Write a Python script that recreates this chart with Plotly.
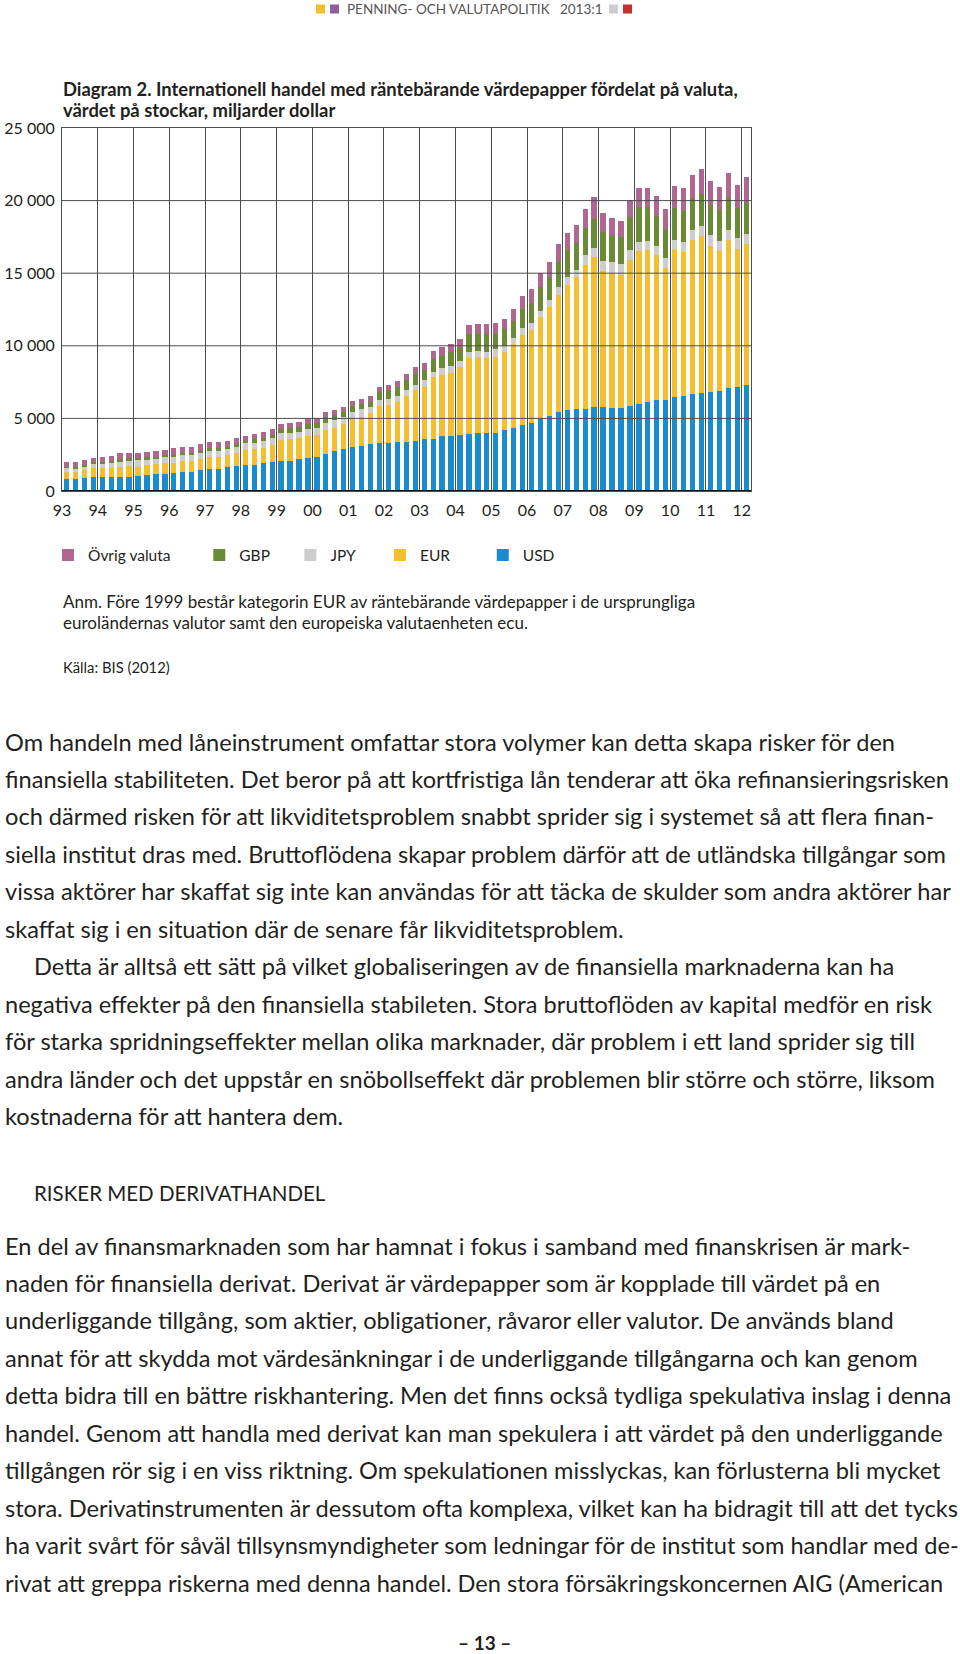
import plotly.graph_objects as go

# ---------------- data (billion USD, quarterly stocks 1993Q1-2012Q1) ----------------
quarters = [f"{y}Q{q}" for y in range(1993, 2013) for q in range(1, 5)][:77]

usd = [826, 826, 918, 986, 986, 986, 986, 986, 1032, 1101, 1147, 1147, 1216, 1285, 1331, 1445,
       1491, 1491, 1629, 1720, 1789, 1789, 1904, 2019, 2088, 2088, 2179, 2294, 2363, 2523, 2753, 2890,
       3051, 3120, 3235, 3312, 3312, 3380, 3380, 3450, 3565, 3610, 3770, 3770, 3840, 3960, 4000, 4025,
       4025, 4190, 4370, 4530, 4650, 4945, 5175, 5430, 5570, 5680, 5680, 5800, 5800, 5750, 5750, 5865,
       6000, 6140, 6300, 6300, 6460, 6530, 6650, 6720, 6810, 6880, 7060, 7180, 7290]
eur = [505, 505, 528, 573, 573, 619, 688, 734, 620, 688, 688, 757, 734, 780, 734, 757,
       826, 826, 849, 872, 1032, 1078, 1078, 1147, 1422, 1468, 1445, 1491, 1491, 1675, 1560, 1720,
       1950, 1996, 2110, 2530, 2600, 2760, 3174, 3500, 3610, 4210, 4210, 4370, 4670, 5175, 5200, 5150,
       5220, 5360, 5750, 6210, 6440, 7060, 7475, 8070, 8625, 9040, 9890, 10350, 9384, 9246, 9130, 10050,
       10530, 10465, 9960, 9040, 10140, 9960, 10650, 10860, 10070, 9680, 10235, 9476, 9706]
jpy = [275, 230, 275, 344, 344, 344, 390, 413, 505, 413, 390, 413, 413, 413, 413, 436,
       436, 436, 390, 459, 459, 459, 459, 459, 459, 459, 459, 459, 505, 505, 574, 505,
       459, 505, 459, 410, 390, 391, 380, 380, 460, 391, 460, 460, 460, 414, 437, 414,
       506, 437, 390, 460, 460, 414, 506, 530, 575, 506, 690, 575, 690, 805, 736, 690,
       644, 644, 620, 690, 690, 690, 690, 690, 760, 690, 690, 760, 713]
gbp = [70, 70, 70, 92, 92, 92, 115, 115, 92, 115, 138, 138, 115, 161, 161, 138,
       184, 184, 184, 184, 184, 229, 229, 229, 275, 298, 298, 344, 344, 367, 344, 344,
       390, 367, 344, 600, 650, 644, 736, 736, 690, 851, 851, 943, 897, 1242, 1220, 1196,
       1058, 1150, 1220, 1310, 1430, 1610, 1610, 1770, 1840, 1886, 1840, 2024, 1955, 1794, 1863, 2254,
       2370, 2277, 2070, 2000, 2230, 2116, 2185, 2210, 2070, 2116, 2185, 2070, 2116]
other = [344, 390, 344, 298, 367, 367, 413, 390, 367, 390, 390, 367, 459, 413, 413, 459,
         459, 436, 413, 390, 344, 367, 367, 390, 367, 344, 344, 367, 344, 344, 344, 344,
         367, 344, 390, 345, 345, 414, 414, 460, 506, 575, 644, 575, 598, 644, 644, 713,
         782, 713, 780, 920, 920, 1010, 1035, 1200, 1150, 1220, 1310, 1470, 1310, 1240, 1150, 1196,
         1310, 1334, 1400, 1380, 1500, 1560, 1610, 1700, 1656, 1564, 1725, 1610, 1771]

series_names = ["USD", "EUR", "JPY", "GBP", "Övrig valuta"]
series_values = [usd, eur, jpy, gbp, other]
series_colors = ["#1A8BCB", "#F3BF30", "#CDCDCD", "#6B8A36", "#B0678F"]
legend_pad = [0, 7, 5, 4, 6]  # non-breaking spaces to space the legend entries like the original

year_ticks = list(range(1993, 2013))
year_labels = ["93", "94", "95", "96", "97", "98", "99", "00", "01", "02", "03",
               "04", "05", "06", "07", "08", "09", "10", "11", "12"]
y_ticks = [0, 5000, 10000, 15000, 20000, 25000]
y_labels = ["0", "5 000", "10 000", "15 000", "20 000", "25 000"]

# quarter label -> decimal year (centre of quarter)
xpos = [int(q[:4]) + (int(q[-1]) - 1) * 0.25 + 0.125 for q in quarters]

# ---------------- layout geometry (pixels) ----------------
W, H = 960, 1654
L, R, T, B = 62, 751, 128.3, 490.7
PW, PH = R - L, B - T


def px(x):
    return (x - L) / PW


def py(y):
    return (B - y) / PH


FONT = "Lato"
fig = go.Figure()
for name, vals, col, pad in zip(series_names, series_values, series_colors, legend_pad):
    fig.add_trace(go.Bar(x=xpos, y=vals, name=name + "\u00a0" * pad,
                         marker=dict(color=col, line=dict(width=0)),
                         width=0.148, hovertext=quarters))

shapes = []
for v in y_ticks[1:-1]:
    shapes.append(dict(type="line", xref="paper", x0=0, x1=1, yref="y", y0=v, y1=v,
                       line=dict(color="#4d4d4d", width=1), layer="above"))
shapes.append(dict(type="line", xref="paper", x0=0, x1=1, yref="y", y0=0, y1=0,
                   line=dict(color="#111111", width=2), layer="above"))

# header squares
for (x0, col) in [(316, "#F3BF30"), (330, "#8E5F9C"), (609, "#CDCDCD"), (623, "#C9302C")]:
    shapes.append(dict(type="rect", xref="paper", yref="paper", x0=px(x0), x1=px(x0 + 9),
                       y0=py(5), y1=py(14), fillcolor=col, line=dict(width=0)))

ann = []


def text(x, y, s, size, color="#231F20", anchor="left", weight=None):
    f = dict(family=FONT, size=size, color=color)
    if weight:
        f["weight"] = weight
    ann.append(dict(xref="paper", yref="paper", x=px(x), y=py(y), text=s, showarrow=False,
                    xanchor=anchor, yanchor="middle", font=f, align="left"))


text(475, 9.5, "PENNING- OCH VALUTAPOLITIK\u00a0\u00a0\u00a02013:1", 13.5, color="#555555", anchor="center")
text(61, 89.7, "Diagram 2. Internationell handel med räntebärande värdepapper fördelat på valuta,", 18.4,
     weight=700)
text(61, 110.8, "värdet på stockar, miljarder dollar", 18.4, weight=700)

text(61, 601, "Anm. Före 1999 består kategorin EUR av räntebärande värdepapper i de ursprungliga", 17)
text(61, 622, "euroländernas valutor samt den europeiska valutaenheten ecu.", 17)
text(61, 666, "Källa: BIS (2012)", 14.8)

body = [
    (3, 741.6, "Om handeln med låneinstrument omfattar stora volymer kan detta skapa risker för den"),
    (3, 778.5, "finansiella stabiliteten. Det beror på att kortfristiga lån tenderar att öka refinansieringsrisken"),
    (3, 815.4, "och därmed risken för att likviditetsproblem snabbt sprider sig i systemet så att flera finan-"),
    (3, 853.4, "siella institut dras med. Bruttoflödena skapar problem därför att de utländska tillgångar som"),
    (3, 890.3, "vissa aktörer har skaffat sig inte kan användas för att täcka de skulder som andra aktörer har"),
    (3, 928.3, "skaffat sig i en situation där de senare får likviditetsproblem."),
    (32, 965.2, "Detta är alltså ett sätt på vilket globaliseringen av de finansiella marknaderna kan ha"),
    (3, 1003.2, "negativa effekter på den finansiella stabileten. Stora bruttoflöden av kapital medför en risk"),
    (3, 1040.1, "för starka spridningseffekter mellan olika marknader, där problem i ett land sprider sig till"),
    (3, 1078.1, "andra länder och det uppstår en snöbollseffekt där problemen blir större och större, liksom"),
    (3, 1115.0, "kostnaderna för att hantera dem."),
    (3, 1244.7, "En del av finansmarknaden som har hamnat i fokus i samband med finanskrisen är mark-"),
    (3, 1281.7, "naden för finansiella derivat. Derivat är värdepapper som är kopplade till värdet på en"),
    (3, 1318.6, "underliggande tillgång, som aktier, obligationer, råvaror eller valutor. De används bland"),
    (3, 1356.6, "annat för att skydda mot värdesänkningar i de underliggande tillgångarna och kan genom"),
    (3, 1393.5, "detta bidra till en bättre riskhantering. Men det finns också tydliga spekulativa inslag i denna"),
    (3, 1431.4, "handel. Genom att handla med derivat kan man spekulera i att värdet på den underliggande"),
    (3, 1468.4, "tillgången rör sig i en viss riktning. Om spekulationen misslyckas, kan förlusterna bli mycket"),
    (3, 1506.4, "stora. Derivatinstrumenten är dessutom ofta komplexa, vilket kan ha bidragit till att det tycks"),
    (3, 1543.3, "ha varit svårt för såväl tillsynsmyndigheter som ledningar för de institut som handlar med de-"),
    (3, 1581.3, "rivat att greppa riskerna med denna handel. Den stora försäkringskoncernen AIG (American"),
]
for x, y, s in body:
    text(x, y, s, 23.6)
text(32, 1192, "RISKER MED DERIVATHANDEL", 20.5)
text(484, 1640, "– 13 –", 19, anchor="center", weight=700)

fig.update_layout(
    width=W, height=H, autosize=False,
    margin=dict(l=L, r=W - R, t=T, b=H - B, pad=0, autoexpand=False),
    paper_bgcolor="white", plot_bgcolor="white",
    barmode="stack", bargap=0,
    font=dict(family=FONT, color="#231F20"),
    showlegend=True,
    legend=dict(orientation="h", xref="container", yref="container",
                x=48 / W, xanchor="left", y=1 - 555.5 / H, yanchor="middle",
                traceorder="reversed", font=dict(family=FONT, size=15.5, color="#231F20"),
                bgcolor="rgba(0,0,0,0)", itemclick=False, itemdoubleclick=False),
    xaxis=dict(range=[1993, 2012.26], tickvals=year_ticks, ticktext=year_labels, automargin=False,
               showgrid=True, gridcolor="#4d4d4d", gridwidth=1, zeroline=False,
               showline=True, mirror=True, linecolor="#4d4d4d", linewidth=1, ticks="",
               tickfont=dict(family=FONT, size=16, color="#231F20"), ticklabelstandoff=5),
    yaxis=dict(range=[0, 25000], tickvals=y_ticks, ticktext=y_labels, showgrid=False, automargin=False,
               zeroline=False, showline=True, mirror=True, linecolor="#4d4d4d", linewidth=1,
               ticks="", tickfont=dict(family=FONT, size=16, color="#231F20"), ticklabelstandoff=3),
    shapes=shapes, annotations=ann,
)

fig.write_html("out.html", config={"displayModeBar": False},
               post_script="document.body.style.margin='0';")
